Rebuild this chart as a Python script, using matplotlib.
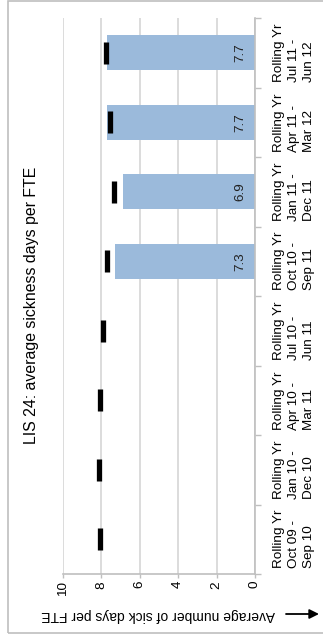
import numpy as np
import matplotlib
matplotlib.use("Agg")
import matplotlib.pyplot as plt
from matplotlib.patches import Rectangle, FancyArrowPatch

plt.rcParams['font.family'] = ['Liberation Sans', 'DejaVu Sans']

# chart data (first category at the bottom of the rotated chart)
categories = [
    "Rolling Yr\nOct 09 -\nSep 10",
    "Rolling Yr\nJan 10 -\nDec 10",
    "Rolling Yr\nApr 10 -\nMar 11",
    "Rolling Yr\nJul 10 -\nJun 11",
    "Rolling Yr\nOct 10 -\nSep 11",
    "Rolling Yr\nJan 11 -\nDec 11",
    "Rolling Yr\nApr 11 -\nMar 12",
    "Rolling Yr\nJul 11 -\nJun 12",
]
actual = [np.nan, np.nan, np.nan, np.nan, 7.3, 6.9, 7.7, 7.7]
comparator = [8.05, 8.14, 8.07, 7.93, 7.73, 7.35, 7.55, 7.77]
value_ticks = [0, 2, 4, 6, 8, 10]

W, H = 323, 637
fig = plt.figure(figsize=(W / 100, H / 100), dpi=100)

# outer frame
fig.patches.append(Rectangle((8 / W, 1 - 632.5 / H), 1.2, (631.5) / H,
                             transform=fig.transFigure, fill=False,
                             ec='#BFBFBF', lw=1.2))

ax = fig.add_axes([63 / W, 63 / H, 192 / W, 556 / H])

pos = np.arange(len(categories))
ax.barh(pos, actual, height=0.5, color='#9BBADB', zorder=2)
ax.plot(comparator, pos, linestyle='none', marker='|', ms=15.5, mew=3.8,
        color='black', zorder=3)

for y, v in zip(pos, actual):
    if np.isnan(v):
        continue
    ax.annotate(f"{v:.1f}", (0, y), xytext=(-15, 0), textcoords='offset pixels',
                rotation=90, ha='center', va='center', fontsize=9.7,
                color='#222222', zorder=4)

ax.set_xlim(10, 0)
ax.set_ylim(-0.5, len(categories) - 0.5)

# value axis (bottom, rotated labels)
ax.set_xticks(value_ticks)
ax.set_xticklabels([str(t) for t in value_ticks], rotation=90, fontsize=9.7)
ax.tick_params(axis='x', direction='out', length=3, width=1, color='#BFBFBF',
               pad=2)
ax.xaxis.grid(True, color='#D9D9D9', lw=1.3, zorder=0)
ax.set_axisbelow(True)

# category axis (right side)
ax.yaxis.tick_right()
ax.set_yticks(np.arange(-0.5, len(categories), 1.0))
ax.set_yticklabels([])
ax.set_yticks(pos, minor=True)
ax.set_yticklabels(categories, minor=True, rotation=90, fontsize=9.7,
                   va='center', ha='left', linespacing=1.35)
ax.tick_params(axis='y', which='major', direction='out', length=4, width=1,
               color='#BFBFBF')
ax.tick_params(axis='y', which='minor', length=0, pad=13)

for s in ['top', 'left']:
    ax.spines[s].set_visible(False)
for s in ['bottom', 'right']:
    ax.spines[s].set_color('#BFBFBF')
    ax.spines[s].set_linewidth(1.2)

# title and axis title
fig.text(32 / W, 1 - 305.5 / H, "LIS 24: average sickness days per FTE",
         rotation=90, ha='center', va='center', fontsize=11.4)
fig.text(158.5 / W, 1 - 615 / H, "Average number of sick days per FTE",
         rotation=180, ha='center', va='center', fontsize=10)
fig.patches.append(FancyArrowPatch((286 / W, 1 - 614 / H), (319 / W, 1 - 614 / H),
                                   transform=fig.transFigure, arrowstyle='-|>',
                                   mutation_scale=14, shrinkA=0, shrinkB=0,
                                   lw=1.3, color='black'))

fig.savefig("out.png", dpi=100)
